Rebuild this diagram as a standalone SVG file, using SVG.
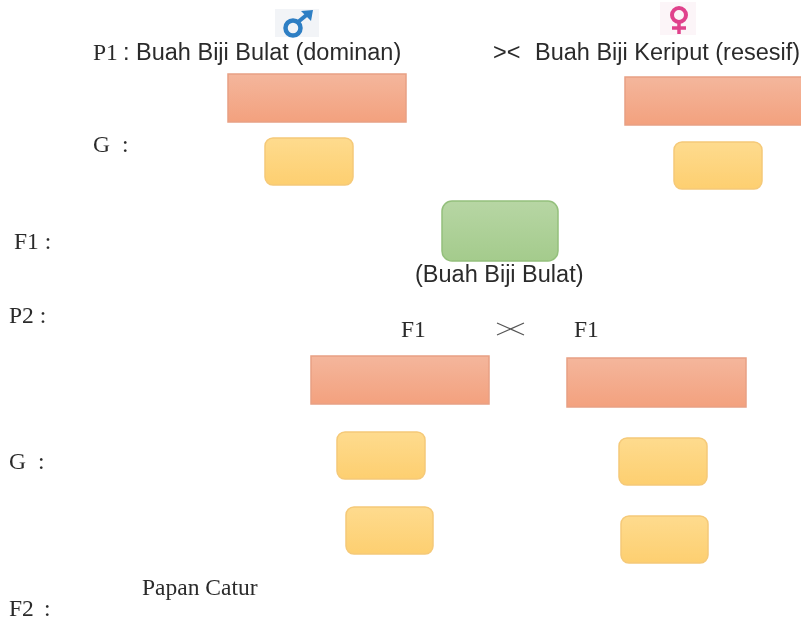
<svg xmlns="http://www.w3.org/2000/svg" width="801" height="623" viewBox="0 0 801 623">
<style>
.serif{font-family:"Liberation Serif",serif;font-size:23.5px;fill:#2b2b2b}
.sans{font-family:"Liberation Sans",sans-serif;font-size:23.5px;fill:#2b2b2b}
.r{fill:url(#red);stroke:#e8a084;stroke-width:1.500}
.y{fill:url(#yel);stroke:#f5c978;stroke-width:1.500}
</style>
<defs>
<linearGradient id="red" x1="0" y1="0" x2="0" y2="1"><stop offset="0" stop-color="#f4b69c"/><stop offset="1" stop-color="#f3a17e"/></linearGradient>
<linearGradient id="yel" x1="0" y1="0" x2="0" y2="1"><stop offset="0" stop-color="#fedb8e"/><stop offset="1" stop-color="#fdcf70"/></linearGradient>
<linearGradient id="grn" x1="0" y1="0" x2="0" y2="1"><stop offset="0" stop-color="#b7d6a4"/><stop offset="1" stop-color="#a4cb8c"/></linearGradient>
<filter id="soft" x="0" y="0" width="100%" height="100%"><feGaussianBlur stdDeviation="0.4"/></filter>
</defs>
<rect width="801" height="623" fill="#fff"/>
<g filter="url(#soft)">
<g id="male-symbol">
<rect x="275" y="9" width="44" height="28" fill="#f2f4f7"/>
<circle cx="293" cy="28" r="7.500" fill="none" stroke="#2f7fc4" stroke-width="4.500"/>
<path d="M298 22L309 13" fill="none" stroke="#2f7fc4" stroke-width="4"/>
<path d="M301 11L313 10L311 21Z" fill="#2f7fc4"/>
</g>
<g id="female-symbol">
<rect x="660" y="2" width="36" height="33" fill="#fcf5f8"/>
<circle cx="679" cy="15" r="7" fill="none" stroke="#e0428c" stroke-width="4"/>
<path d="M679 22V34M672 28H686" fill="none" stroke="#e0428c" stroke-width="3.500"/>
</g>
<g id="p1-label"><text class="serif" x="93" y="60">P1</text><text class="sans" x="123" y="60">: Buah Biji Bulat (dominan)</text></g>
<g id="cross-label"><text class="sans" x="493" y="60">&gt;&lt;</text><text class="sans" x="535" y="60">Buah Biji Keriput (resesif)</text></g>
<g id="p1-male"><rect class="r" x="228" y="74" width="178" height="48"/></g>
<g id="p1-female"><rect class="r" x="625" y="77" width="180" height="48"/></g>
<g id="g-label"><text class="serif" x="93" y="152">G</text><text class="serif" x="122" y="152">:</text></g>
<g id="g1-male"><rect class="y" x="265" y="138" width="88" height="47" rx="8"/></g>
<g id="g1-female"><rect class="y" x="674" y="142" width="88" height="47" rx="8"/></g>
<g id="f1-label"><text class="serif" x="14" y="249">F1 :</text></g>
<g id="f1-node"><rect x="442" y="201" width="116" height="60" rx="10" fill="url(#grn)" stroke="#94c07c" stroke-width="1.500"/></g>
<g id="f1-caption"><text class="sans" x="415" y="282">(Buah Biji Bulat)</text></g>
<g id="p2-label"><text class="serif" x="9" y="323">P2 :</text></g>
<g id="f1-left"><text class="serif" x="401" y="337">F1</text></g>
<g id="f1-cross"><path d="M497 323L524 335M497 335L524 323" fill="none" stroke="#555" stroke-width="1.200"/></g>
<g id="f1-right"><text class="serif" x="574" y="337">F1</text></g>
<g id="p2-left"><rect class="r" x="311" y="356" width="178" height="48"/></g>
<g id="p2-right"><rect class="r" x="567" y="358" width="179" height="49"/></g>
<g id="g2-label"><text class="serif" x="9" y="469">G</text><text class="serif" x="38" y="469">:</text></g>
<g id="g2-a"><rect class="y" x="337" y="432" width="88" height="47" rx="8"/></g>
<g id="g2-b"><rect class="y" x="619" y="438" width="88" height="47" rx="8"/></g>
<g id="g2-c"><rect class="y" x="346" y="507" width="87" height="47" rx="8"/></g>
<g id="g2-d"><rect class="y" x="621" y="516" width="87" height="47" rx="8"/></g>
<g id="papan"><text class="serif" x="142" y="595">Papan Catur</text></g>
<g id="f2-label"><text class="serif" x="9" y="616">F2</text><text class="serif" x="44" y="616">:</text></g>
</g>
<g id="connectors"></g>
</svg>
